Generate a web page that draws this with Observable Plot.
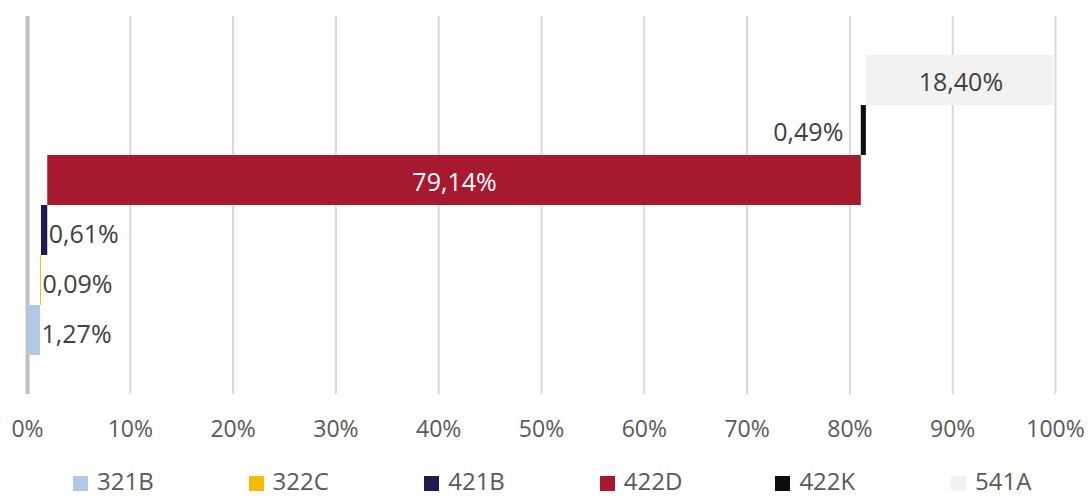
<!DOCTYPE html>
<html>
<head>
<meta charset="utf-8">
<script src="https://cdn.jsdelivr.net/npm/d3@7"></script>
<script src="https://cdn.jsdelivr.net/npm/@observablehq/plot@0.6"></script>
<style>
  html, body { margin: 0; padding: 0; background: #fff; overflow: hidden; }
  body { width: 1088px; height: 498px; position: relative; font-family: "Open Sans", sans-serif; }
  #legend { position: absolute; left: 73px; top: 470px; display: flex; height: 22px; align-items: center; }
  .item { width: 175.6px; display: flex; align-items: center; font-size: 24px; line-height: 22px; color: #595959; }
  .sw { width: 15px; height: 15px; margin-right: 9px; margin-top: 4px; }
</style>
</head>
<body>
<div id="chart"></div>
<div id="legend"></div>
<script>
// Data
const categories = ["321B", "322C", "421B", "422D", "422K", "541A"];
const shares = [1.27, 0.09, 0.61, 79.14, 0.49, 18.40];
const colors = ["#b4c7e7", "#f5bd00", "#1f1a4f", "#a6192e", "#0d0d0d", "#f2f2f2"];
const xTicks = [0, 10, 20, 30, 40, 50, 60, 70, 80, 90, 100];

const ends = Array.from(d3.cumsum(shares));
const data = categories.map((c, i) => ({
  cat: c, value: shares[i], start: ends[i] - shares[i], end: ends[i], color: colors[i]
}));
const fmt = v => v.toFixed(2).replace(".", ",") + "%";

const insideCats = ["422D", "541A"];
const leftCats = ["422K"];
const inside = data.filter(d => insideCats.includes(d.cat));
const leftOf = data.filter(d => leftCats.includes(d.cat));
const rightOf = data.filter(d => !insideCats.includes(d.cat) && !leftCats.includes(d.cat));

const chart = Plot.plot({
  width: 1088,
  height: 455,
  marginLeft: 27,
  marginRight: 33,
  marginTop: 16,
  marginBottom: 61,
  style: { fontFamily: "Open Sans, sans-serif", background: "#fff" },
  x: { domain: [0, 100], ticks: xTicks, tickFormat: d => d + "%", tickSize: 0, tickPadding: 26, label: null },
  y: { domain: categories.slice().reverse(), paddingInner: 0, paddingOuter: 0.74, axis: null },
  marks: [
    Plot.gridX(xTicks, { stroke: "#d9d9d9", strokeOpacity: 1, strokeWidth: 2 }),
    Plot.ruleX([0], { stroke: "#bfbfbf", strokeWidth: 4 }),
    Plot.barX(data, { x1: "start", x2: "end", y: "cat", fill: "color", inset: 0 }),
    Plot.text(inside, { x: d => (d.start + d.end) / 2, y: "cat", text: d => fmt(d.value),
      fill: d => d.cat === "422D" ? "#ffffff" : "#404040", fontSize: 25, dy: 2 }),
    Plot.text(leftOf, { x: "start", y: "cat", text: d => fmt(d.value), textAnchor: "end", dx: -18, dy: 2, fill: "#404040", fontSize: 25 }),
    Plot.text(rightOf, { x: "end", y: "cat", text: d => fmt(d.value), textAnchor: "start", dx: 1, dy: 4, fill: "#404040", fontSize: 25 })
  ]
});
chart.querySelectorAll("g[aria-label='x-axis tick label']").forEach(el => {
  el.setAttribute("font-size", "23");
  el.setAttribute("fill", "#595959");
});
document.getElementById("chart").appendChild(chart);

const legend = document.getElementById("legend");
categories.forEach((c, i) => {
  const it = document.createElement("div");
  it.className = "item";
  const sw = document.createElement("span");
  sw.className = "sw";
  sw.style.background = colors[i];
  const t = document.createElement("span");
  t.textContent = c;
  it.appendChild(sw);
  it.appendChild(t);
  legend.appendChild(it);
});
</script>
</body>
</html>
